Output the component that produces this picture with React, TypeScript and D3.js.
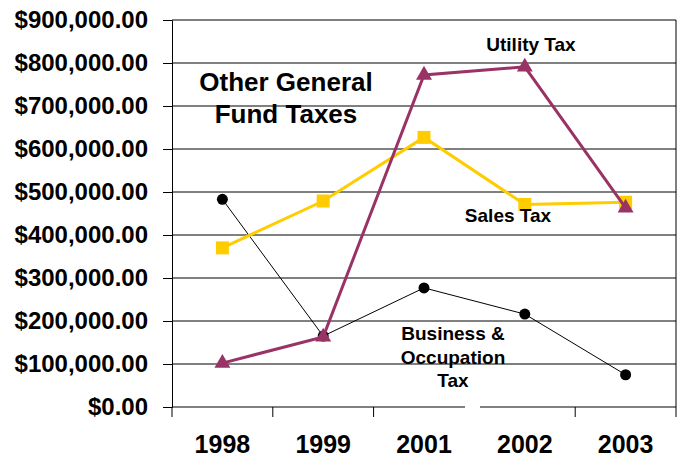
import React, { useEffect, useRef } from "react";
import * as d3 from "d3";

const years = ["1998", "1999", "2001", "2002", "2003"];
const businessTax = [483000, 165000, 277000, 216000, 75000];
const salesTax = [370000, 479000, 627000, 471000, 476000];
const utilityTax = [102000, 163000, 772000, 791000, 463000];
const yTicks = [0, 100000, 200000, 300000, 400000, 500000, 600000, 700000, 800000, 900000];

const App = () => {
  const ref = useRef<SVGSVGElement>(null);

  useEffect(() => {
    const svg = d3.select(ref.current);
    svg.selectAll("*").remove();

    const width = 679;
    const height = 461;
    const margin = { top: 20, right: 3, bottom: 54, left: 172 };
    const font = "Liberation Sans, Arial, sans-serif";

    const x = d3.scaleBand()
      .domain(years)
      .range([margin.left, width - margin.right]);

    const y = d3.scaleLinear()
      .domain([0, 900000])
      .range([height - margin.bottom, margin.top]);

    const cx = (d: string) => (x(d) as number) + x.bandwidth() / 2;

    svg.append("rect").attr("width", width).attr("height", height).attr("fill", "#fff");

    // gridlines
    svg.append("g")
      .selectAll("line")
      .data(yTicks)
      .join("line")
      .attr("x1", margin.left)
      .attr("x2", width - margin.right)
      .attr("y1", d => y(d))
      .attr("y2", d => y(d))
      .attr("stroke", "#000")
      .attr("stroke-width", 1);

    // right border
    svg.append("line")
      .attr("x1", width - margin.right).attr("x2", width - margin.right)
      .attr("y1", margin.top).attr("y2", height - margin.bottom)
      .attr("stroke", "#000");

    const yAxis = svg.append("g")
      .attr("transform", `translate(${margin.left},0)`)
      .call(d3.axisLeft(y).tickValues(yTicks).tickSize(9).tickPadding(15)
        .tickFormat(d => "$" + d3.format(",.2f")(+d)));
    yAxis.select(".domain").attr("stroke", "#000");
    yAxis.selectAll("text")
      .attr("font-family", font)
      .attr("font-weight", "bold")
      .attr("font-size", 24)
      .attr("fill", "#000");

    const xAxis = svg.append("g")
      .attr("transform", `translate(0,${height - margin.bottom})`)
      .call(d3.axisBottom(x).tickSize(0).tickPadding(28));
    xAxis.select(".domain").remove();
    xAxis.selectAll("text")
      .attr("font-family", font)
      .attr("font-weight", "bold")
      .attr("font-size", 25)
      .attr("fill", "#000");

    // category boundary ticks
    const bounds = years.map(d => x(d) as number).concat([width - margin.right]);
    svg.append("g")
      .selectAll("line")
      .data(bounds)
      .join("line")
      .attr("x1", d => d).attr("x2", d => d)
      .attr("y1", height - margin.bottom)
      .attr("y2", height - margin.bottom + 10)
      .attr("stroke", "#000");

    // little gap in the bottom axis
    svg.append("rect")
      .attr("x", 465).attr("y", height - margin.bottom - 2)
      .attr("width", 15).attr("height", 14)
      .attr("fill", "#fff");

    const line = d3.line<number>()
      .x((_, i) => cx(years[i]))
      .y(d => y(d));

    // business & occupation
    svg.append("path")
      .datum(businessTax)
      .attr("fill", "none")
      .attr("stroke", "#000")
      .attr("stroke-width", 1)
      .attr("d", line);
    svg.append("g")
      .selectAll("circle")
      .data(businessTax)
      .join("circle")
      .attr("cx", (_, i) => cx(years[i]))
      .attr("cy", d => y(d))
      .attr("r", 5.5)
      .attr("fill", "#000");

    // sales tax
    svg.append("path")
      .datum(salesTax)
      .attr("fill", "none")
      .attr("stroke", "#FFCC00")
      .attr("stroke-width", 3)
      .attr("d", line);
    svg.append("g")
      .selectAll("rect")
      .data(salesTax)
      .join("rect")
      .attr("x", (_, i) => cx(years[i]) - 6.5)
      .attr("y", d => y(d) - 6.5)
      .attr("width", 13)
      .attr("height", 13)
      .attr("fill", "#FFCC00");

    // utility tax
    svg.append("path")
      .datum(utilityTax)
      .attr("fill", "none")
      .attr("stroke", "#993366")
      .attr("stroke-width", 3)
      .attr("d", line);
    const tri = d3.symbol().type(d3.symbolTriangle).size(110);
    svg.append("g")
      .selectAll("path")
      .data(utilityTax)
      .join("path")
      .attr("transform", (d, i) => `translate(${cx(years[i])},${y(d)})`)
      .attr("d", tri)
      .attr("fill", "#993366");

    const label = (txt: string, lx: number, ly: number, size: number) =>
      svg.append("text")
        .attr("x", lx)
        .attr("y", ly)
        .attr("text-anchor", "middle")
        .attr("font-family", font)
        .attr("font-weight", "bold")
        .attr("font-size", size)
        .attr("fill", "#000")
        .text(txt);

    label("Utility Tax", 531, 51, 19);
    label("Other General", 286, 91, 26);
    label("Fund Taxes", 286, 123, 26);
    label("Sales Tax", 508, 222, 19);
    label("Business &", 453, 340, 19);
    label("Occupation", 453, 364, 19);
    label("Tax", 453, 387, 19);
  }, []);

  return (
    <svg
      ref={ref}
      width={679}
      height={461}
      style={{ position: "absolute", left: 0, top: 0 }}
    ></svg>
  );
};

export default App;
